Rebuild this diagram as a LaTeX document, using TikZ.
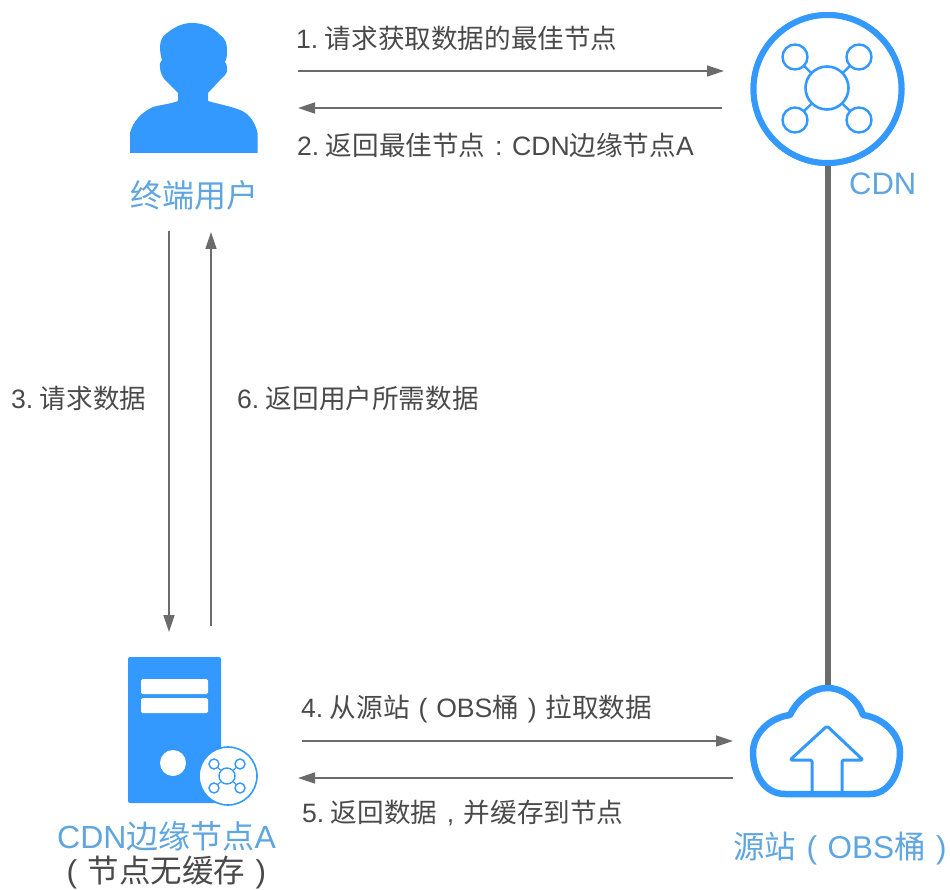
\documentclass[tikz,border=0pt]{standalone}
\usepackage{fontspec}
\setmainfont{Liberation Sans}
\newfontfamily\cjk{Noto Sans CJK SC}[Scale=1.0]
\usetikzlibrary{arrows.meta}
\definecolor{iconblue}{HTML}{3399FF}
\definecolor{labelblue}{HTML}{5FA5E0}
\definecolor{txt}{HTML}{4A4A4A}
\definecolor{linegray}{HTML}{6B6B6B}
\newcommand{\zw}[1]{\makebox[1em][c]{\normalfont #1}}
\newcommand{\stepgap}{\hspace{6.5pt}}
\tikzset{
  flow/.style={draw=linegray,line width=1.6pt,-{Triangle[length=17pt,width=11pt]}},
  steptext/.style={anchor=west,inner sep=0pt,text=txt,font=\fontsize{26.6}{28}\selectfont},
  iconlabel/.style={inner sep=0pt,text=labelblue,font=\fontsize{32}{34}\selectfont},
  ring/.style={draw=iconblue,fill=white,line width=3pt},
  smallring/.style={draw=iconblue,fill=white,line width=1.4pt},
}
\begin{document}
\begin{tikzpicture}[x=1pt,y=-1pt]
\useasboundingbox (0,0) rectangle (950,890);
% CDN to origin link goes under the icons
\node[circle,ring,line width=6pt,minimum size=148pt,inner sep=0pt] (cdn) at (827.5,89) {};
\coordinate (cloudtop) at (827.5,688);
\draw[linegray,line width=6pt] (cdn.south) -- (cloudtop);
\node[circle,ring,line width=6pt,minimum size=148pt,inner sep=0pt] at (827.5,89) {};
% CDN hub
\draw[iconblue,line width=2.4pt] (795,57) -- (859,120) (859,57) -- (795,120);
\node[circle,ring,minimum size=43pt,inner sep=0pt,line width=2.6pt] (hub) at (827,88) {};
\foreach \n/\a/\b in {h1/795/57,h2/859/57,h3/795/120,h4/859/120}
  \node[circle,ring,minimum size=25pt,inner sep=0pt,line width=2.4pt] (\n) at (\a,\b) {};
\node[iconlabel,anchor=west,font=\fontsize{31}{33}\selectfont] (cdnl) at (849,184) {CDN};
% user
\fill[iconblue] (130,153) -- (257.5,153) -- (257.5,133)
  .. controls (255,121) and (248,113) .. (240,110)
  .. controls (230,106) and (218,104) .. (208,101)
  -- (208,93)
  -- (222,78)
  .. controls (226,75) and (228,71) .. (227,68)
  .. controls (227,65) and (226,63) .. (225,62)
  .. controls (227,58) and (227,54) .. (227,50)
  .. controls (227,43) and (225,38) .. (220,35)
  .. controls (213,27) and (203,23) .. (192,23)
  .. controls (182,23) and (175,27) .. (167,33)
  .. controls (162,36) and (160,42) .. (160,47)
  .. controls (160,52) and (161,57) .. (162,60)
  .. controls (160,62) and (159,65) .. (160,67)
  .. controls (160,72) and (162,76) .. (165,80)
  -- (178,93) -- (178,101)
  .. controls (170,104) and (160,105) .. (153,107)
  .. controls (142,112) and (133,121) .. (130,133) -- cycle;
\node[iconlabel,font=\fontsize{32}{34}\selectfont] (user) at (194,195) {\cjk 终端用户};
% server
\fill[iconblue,rounded corners=2pt] (128,657) rectangle (221,803);
\fill[white,rounded corners=1.5pt] (141,679) rectangle (208,694);
\fill[white,rounded corners=1.5pt] (141,698) rectangle (208,713);
\fill[white] (173,763) circle (13pt);
\node[circle,draw=iconblue,fill=white,line width=1.6pt,minimum size=58pt,inner sep=0pt] (badge) at (228,776) {};
\draw[iconblue,line width=1pt] (214,764) -- (240,788) (240,764) -- (214,788);
\node[circle,smallring,minimum size=16pt,inner sep=0pt] at (227,776) {};
\foreach \a/\b in {214/764,240/764,214/788,240/788}
  \node[circle,smallring,minimum size=10pt,inner sep=0pt] at (\a,\b) {};
\node[iconlabel,anchor=west] (edge) at (57,836) {CDN{\cjk 边缘节点}A};
\node[inner sep=0pt,anchor=west,text=txt,font=\fontsize{31.5}{34}\selectfont] (nocache) at (56,873) {\zw{(}{\cjk 节点无缓存}\zw{)}};
% cloud
\draw[iconblue,line width=6.5pt,line join=round,fill=white]
  (785,794)
  .. controls (765,794) and (753,775) .. (753,752)
  .. controls (753,735) and (768,718) .. (790,715)
  .. controls (797,700) and (812,688) .. (827,688)
  .. controls (844,688) and (858,700) .. (863,715)
  .. controls (884,718) and (900,735) .. (900,752)
  .. controls (900,775) and (888,794) .. (870,794)
  -- cycle;
\draw[iconblue,line width=3pt,line join=round,rounded corners=1.5pt]
  (812,793) -- (812,760) -- (790,760) -- (827,726) -- (863,760) -- (842,760) -- (842,793);
\node[iconlabel,anchor=west,font=\fontsize{31.5}{34}\selectfont] (origin) at (733,849) {{\cjk 源站}\zw{(}OBS{\cjk 桶}\zw{)}};
% endpoints
\coordinate (a1s) at (298,71);  \coordinate (a1e) at (724,71);
\coordinate (a2s) at (722,108); \coordinate (a2e) at (298,108);
\coordinate (a3s) at (169,231); \coordinate (a3e) at (169,632);
\coordinate (a6s) at (211,626); \coordinate (a6e) at (211,232);
\coordinate (a4s) at (302,741); \coordinate (a4e) at (733,741);
\coordinate (a5s) at (733,778); \coordinate (a5e) at (298,778);
\draw[flow] (a1s) -- (a1e);
\draw[flow] (a2s) -- (a2e);
\draw[flow] (a3s) -- (a3e);
\draw[flow] (a6s) -- (a6e);
\draw[flow] (a4s) -- (a4e);
\draw[flow] (a5s) -- (a5e);
\node[steptext] (t1) at (296,38) {1.\stepgap{\cjk 请求获取数据的最佳节点}};
\node[steptext] (t2) at (297,145) {2.\stepgap{\cjk 返回最佳节点}\zw{:}CDN{\cjk 边缘节点}A};
\node[steptext] (t3) at (11,398) {3.\stepgap{\cjk 请求数据}};
\node[steptext] (t6) at (237,398) {6.\stepgap{\cjk 返回用户所需数据}};
\node[steptext] (t4) at (301,709) {4.\stepgap{\cjk 从源站}\zw{(}OBS{\cjk 桶}\zw{)}{\cjk 拉取数据}};
\node[steptext] (t5) at (302,813) {5.\stepgap{\cjk 返回数据}\zw{,}{\cjk 并缓存到节点}};
\end{tikzpicture}
\end{document}
